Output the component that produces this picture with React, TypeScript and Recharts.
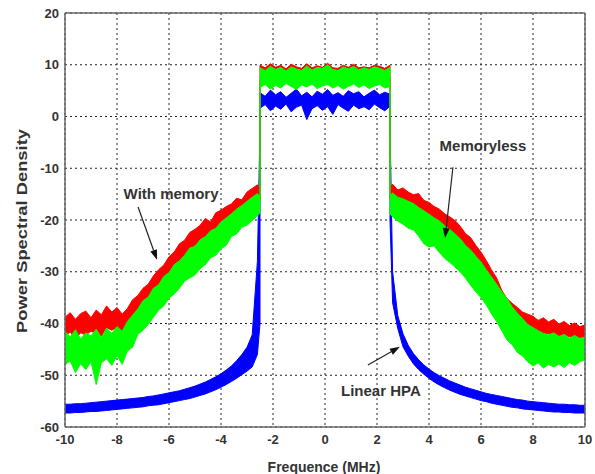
import React from 'react';
import { ComposedChart, Area, XAxis, YAxis, CartesianGrid, ReferenceLine, Label } from 'recharts';

// frequency grid (MHz): left skirt, passband, right skirt (band edges appear twice)
const freq = [
  -10, -9.8, -9.6, -9.4, -9.2, -9, -8.8, -8.6, -8.4, -8.2, -8, -7.8, -7.6, -7.4, -7.2, -7, -6.8, -6.6, -6.4, -6.2,
  -6, -5.8, -5.6, -5.4, -5.2, -5, -4.8, -4.6, -4.4, -4.2, -4, -3.8, -3.6, -3.4, -3.2, -3, -2.8, -2.6, -2.5,
  -2.5, -2.3, -2.1, -1.9, -1.7, -1.5, -1.3, -1.1, -0.9, -0.7, -0.5, -0.3, -0.1, 0.1, 0.3, 0.5, 0.7, 0.9, 1.1, 1.3,
  1.5, 1.7, 1.9, 2.1, 2.3, 2.5,
  2.5, 2.6, 2.8, 3, 3.2, 3.4, 3.6, 3.8, 4, 4.2, 4.4, 4.6, 4.8, 5, 5.2, 5.4, 5.6, 5.8, 6, 6.2, 6.4, 6.6, 6.8, 7,
  7.2, 7.4, 7.6, 7.8, 8, 8.2, 8.4, 8.6, 8.8, 9, 9.2, 9.4, 9.6, 9.8, 10,
];

// "With memory" (red)
const redHi = [
  -38.8, -37.9, -39.2, -38.1, -37.6, -38.9, -37.4, -38.3, -36.6, -37.8, -36.9, -38.2, -37.1, -35.4, -34.6, -33.2, -32.4, -30.8, -29.6, -28.7,
  -27.1, -26.2, -24.6, -23.9, -22.4, -21.8, -21.0, -19.7, -20.4, -18.6, -18.1, -17.4, -16.9, -15.8, -16.1, -14.6, -13.9, -13.2, -14.4,
  9.9, 9.4, 10.2, 9.5, 9.9, 9.2, 10.1, 9.6, 9.3, 10.2, 9.4, 9.8, 9.5, 10.3, 9.4, 9.3, 9.9, 9.5, 10.1, 9.4,
  9.6, 9.4, 9.9, 9.7, 9.3, 9.9,
  -13.6, -13.1, -14.2, -13.8, -14.6, -15.1, -14.9, -16.2, -16.6, -17.4, -17.9, -18.8, -19.4, -20.1, -21.2, -22.6, -23.4, -24.9, -26.2, -27.8,
  -29.6, -31.2, -33.6, -35.2, -36.1, -36.9, -37.8, -38.2, -38.6, -39.4, -38.9, -39.7, -39.2, -40.1, -39.6, -40.4, -39.9, -40.6, -40.3,
];
const redLo = [
  -42.5, -41.6, -43.0, -41.8, -42.2, -41.5, -41.9, -42.4, -40.8, -41.3, -40.7, -41.6, -40.2, -39.1, -37.8, -36.9, -35.3, -34.2, -32.8, -31.9,
  -30.4, -29.6, -28.1, -26.8, -26.1, -24.9, -24.2, -23.4, -22.8, -22.1, -21.3, -20.6, -19.2, -19.0, -18.3, -17.5, -16.8, -15.9, -16.2,
  7.2, 7.8, 7.0, 7.5, 7.9, 7.1, 7.6, 7.3, 7.8, 7.0, 7.4, 7.7, 7.2, 7.5, 7.9, 7.1, 7.6, 7.3, 7.0, 7.7,
  7.4, 7.8, 7.2, 7.5, 7.1, 7.6,
  -16.0, -15.8, -16.4, -16.9, -17.3, -17.8, -18.4, -18.9, -19.7, -20.3, -21.2, -22.0, -22.9, -24.0, -24.8, -26.1, -27.4, -28.7, -30.2, -31.6,
  -33.4, -35.1, -36.8, -38.2, -39.0, -40.2, -40.6, -41.3, -41.5, -41.8, -42.1, -42.0, -42.6, -42.3, -42.8, -42.5, -43.1, -42.7, -43.0,
];

// "Memoryless" (green)
const greenHi = [
  -41.5, -42.6, -41.2, -43.0, -41.8, -42.4, -41.1, -42.7, -40.9, -41.9, -40.6, -41.5, -39.6, -38.4, -37.2, -35.6, -34.9, -33.2, -32.5, -30.9,
  -30.2, -28.6, -27.9, -26.8, -25.4, -25.1, -23.8, -23.2, -22.1, -21.6, -20.4, -19.6, -18.8, -17.9, -17.2, -16.4, -15.6, -14.9, -15.5,
  9.4, 8.9, 9.7, 9.1, 9.5, 8.8, 9.6, 9.2, 8.9, 9.8, 9.0, 9.5, 9.3, 10.0, 9.1, 8.9, 9.6, 9.2, 9.7, 9.0,
  9.4, 9.1, 9.6, 9.3, 8.9, 9.5,
  -15.2, -14.8, -15.6, -15.9, -16.4, -16.8, -17.6, -18.2, -18.9, -19.6, -20.2, -21.1, -21.8, -22.7, -23.6, -24.9, -25.8, -27.0, -28.1, -29.6,
  -31.0, -32.4, -33.9, -35.2, -36.8, -38.0, -39.1, -40.2, -40.8, -41.4, -41.9, -42.2, -41.8, -42.5, -42.1, -42.8, -42.3, -42.9, -42.6,
];
const greenLo = [
  -48.0, -47.2, -49.5, -47.8, -48.9, -47.4, -51.8, -47.6, -46.8, -48.1, -46.2, -47.9, -45.3, -44.6, -42.1, -41.3, -40.2, -38.8, -37.4, -36.6,
  -35.1, -34.3, -33.2, -31.8, -31.2, -30.6, -29.4, -28.6, -27.3, -26.8, -25.6, -24.9, -23.2, -22.7, -21.4, -21.0, -20.1, -19.2, -18.6,
  5.6, 6.2, 5.3, 6.0, 5.5, 6.4, 5.8, 5.2, 6.1, 5.7, 6.3, 5.4, 5.9, 6.2, 5.5, 6.0, 5.3, 5.8, 6.3, 5.6,
  6.1, 5.4, 5.9, 6.2, 5.5, 5.8,
  -18.8, -19.4, -20.2, -20.8, -21.6, -21.9, -23.1, -24.6, -25.2, -25.0, -26.3, -27.4, -28.2, -29.1, -30.0, -31.2, -32.6, -33.9, -35.0, -36.4,
  -38.1, -39.6, -41.4, -43.2, -44.1, -45.6, -46.3, -47.4, -48.2, -47.6, -48.6, -47.9, -48.4, -47.8, -48.5, -47.6, -48.1, -47.4, -47.0,
];

// "Linear HPA" (blue)
const blueHi = [
  -55.6, -55.6, -55.5, -55.5, -55.4, -55.3, -55.2, -55.1, -55.0, -54.9, -54.8, -54.7, -54.6, -54.5, -54.4, -54.3, -54.1, -54.0, -53.8, -53.6,
  -53.4, -53.2, -53.0, -52.7, -52.4, -52.1, -51.7, -51.3, -50.8, -50.3, -49.7, -49.0, -48.2, -47.2, -46.0, -44.6, -42.2, -28.0, -2.0,
  4.6, 3.9, 5.1, 4.2, 4.8, 3.7, 4.5, 5.3, 4.0, 4.7, 3.8, 4.9, 4.3, 5.2, 4.1, 4.6, 3.9, 5.0, 4.4, 4.8,
  3.8, 4.5, 5.1, 4.2, 4.7, 4.3,
  -2.0, -30.0, -38.5, -42.0, -44.2, -45.8, -47.0, -48.0, -48.8, -49.5, -50.1, -50.6, -51.1, -51.5, -51.9, -52.3, -52.6, -52.9, -53.2, -53.5,
  -53.7, -53.9, -54.1, -54.3, -54.5, -54.7, -54.8, -55.0, -55.1, -55.2, -55.3, -55.4, -55.5, -55.6, -55.6, -55.7, -55.7, -55.8, -55.8,
];
const blueLo = [
  -57.3, -57.3, -57.2, -57.2, -57.1, -57.0, -57.0, -56.9, -56.8, -56.7, -56.6, -56.5, -56.4, -56.3, -56.2, -56.1, -55.9, -55.8, -55.7, -55.5,
  -55.3, -55.1, -54.9, -54.7, -54.5, -54.2, -53.9, -53.6, -53.2, -52.8, -52.3, -51.8, -51.2, -50.6, -49.9, -49.2, -48.4, -46.0, -40.0,
  1.6, 2.3, 1.1, 2.0, 1.4, 2.4, 0.9, 1.8, 2.2, -0.6, 1.5, 2.1, 1.2, 1.9, 0.4, 2.3, 1.6, 1.0, 2.2, 1.5,
  1.9, 1.3, 2.4, 1.7, 1.1, 2.0,
  -20.0, -36.0, -41.0, -44.5, -46.3, -47.8, -48.9, -49.8, -50.6, -51.3, -51.9, -52.4, -52.9, -53.3, -53.7, -54.0, -54.3, -54.6, -54.9, -55.1,
  -55.4, -55.6, -55.8, -56.0, -56.2, -56.3, -56.5, -56.6, -56.7, -56.8, -56.9, -57.0, -57.1, -57.1, -57.2, -57.2, -57.3, -57.3, -57.3,
];

const xTicks = [-10, -8, -6, -4, -2, 0, 2, 4, 6, 8, 10];
const yTicks = [-60, -50, -40, -30, -20, -10, 0, 10, 20];

const rows = freq.map((f, i) => ({
  f,
  red: [redLo[i], redHi[i]],
  green: [greenLo[i], greenHi[i]],
  blue: [blueLo[i], blueHi[i]],
}));

const txt = { fill: '#333', fontWeight: 700, fontFamily: '"Liberation Sans", Arial, sans-serif' };

// arrow + caption drawn from the segment endpoints given by ReferenceLine
const arrow = (caption: string, dx: number, dy: number) => (p: any) => {
  const { x1, y1, x2, y2 } = p;
  const a = Math.atan2(y2 - y1, x2 - x1);
  const len = 10, hw = 3.5;
  const bx = x2 - len * Math.cos(a), by = y2 - len * Math.sin(a);
  const pts = [
    `${x2},${y2}`,
    `${bx + hw * Math.sin(a)},${by - hw * Math.cos(a)}`,
    `${bx - hw * Math.sin(a)},${by + hw * Math.cos(a)}`,
  ].join(' ');
  return (
    <g>
      <line x1={x1} y1={y1} x2={bx} y2={by} stroke="#222" strokeWidth={1.2} />
      <polygon points={pts} fill="#111" />
      <text x={x1 + dx} y={y1 + dy} textAnchor="middle" fontSize={15} {...txt}>{caption}</text>
    </g>
  );
};

export default function App() {
  return (
    <div style={{ position: 'absolute', left: 0, top: 0, width: 595, height: 474, background: '#fff' }}>
      <ComposedChart width={595} height={474} data={rows} margin={{ top: 13, right: 10, left: 15, bottom: 1 }}>
        <CartesianGrid stroke="#222" strokeDasharray="2 3" horizontalValues={yTicks} verticalValues={xTicks} />
        <XAxis
          dataKey="f"
          type="number"
          domain={[-10, 10]}
          ticks={xTicks}
          allowDataOverflow
          tickLine={false}
          tickSize={4}
          tickMargin={4}
          height={46}
          stroke="#666"
          strokeWidth={1.5}
          tick={{ fontSize: 13, ...txt }}
        >
          <Label content={() => <text x={324} y={472} textAnchor="middle" fontSize={14} {...txt}>Frequence (MHz)</text>} />
        </XAxis>
        <YAxis
          type="number"
          domain={[-60, 20]}
          ticks={yTicks}
          allowDataOverflow
          tickLine={false}
          tickSize={4}
          tickMargin={2}
          width={50}
          stroke="#666"
          strokeWidth={1.5}
          tick={{ fontSize: 13, ...txt }}
        >
          <Label
            content={() => (
              <text x={22} y={231} transform="rotate(-90 22 231)" textAnchor="middle" dominantBaseline="central"
                fontSize={14} textLength={204} lengthAdjust="spacingAndGlyphs" {...txt}>
                Power Spectral Density
              </text>
            )}
          />
        </YAxis>
        <ReferenceLine y={20} stroke="#666" strokeWidth={1.5} />
        <ReferenceLine x={10} stroke="#666" strokeWidth={1.5} />
        <Area dataKey="blue" type="linear" stroke="#0000ff" fill="#0000ff" fillOpacity={1} strokeWidth={1} dot={false} activeDot={false} isAnimationActive={false} />
        <Area dataKey="red" type="linear" stroke="#ff0000" fill="#ff0000" fillOpacity={1} strokeWidth={1} dot={false} activeDot={false} isAnimationActive={false} />
        <Area dataKey="green" type="linear" stroke="#00ff00" fill="#00ff00" fillOpacity={1} strokeWidth={1} dot={false} activeDot={false} isAnimationActive={false} />
        <ReferenceLine segment={[{ x: -7.19, y: -17.5 }, { x: -6.46, y: -27.7 }]} shape={arrow('With memory', 33, -8)} />
        <ReferenceLine segment={[{ x: 4.92, y: -9.8 }, { x: 4.62, y: -23.5 }]} shape={arrow('Memoryless', 30, -16)} />
        <ReferenceLine segment={[{ x: 1.65, y: -48.0 }, { x: 2.88, y: -44.5 }]} shape={arrow('Linear HPA', 13, 31)} />
      </ComposedChart>
    </div>
  );
}
